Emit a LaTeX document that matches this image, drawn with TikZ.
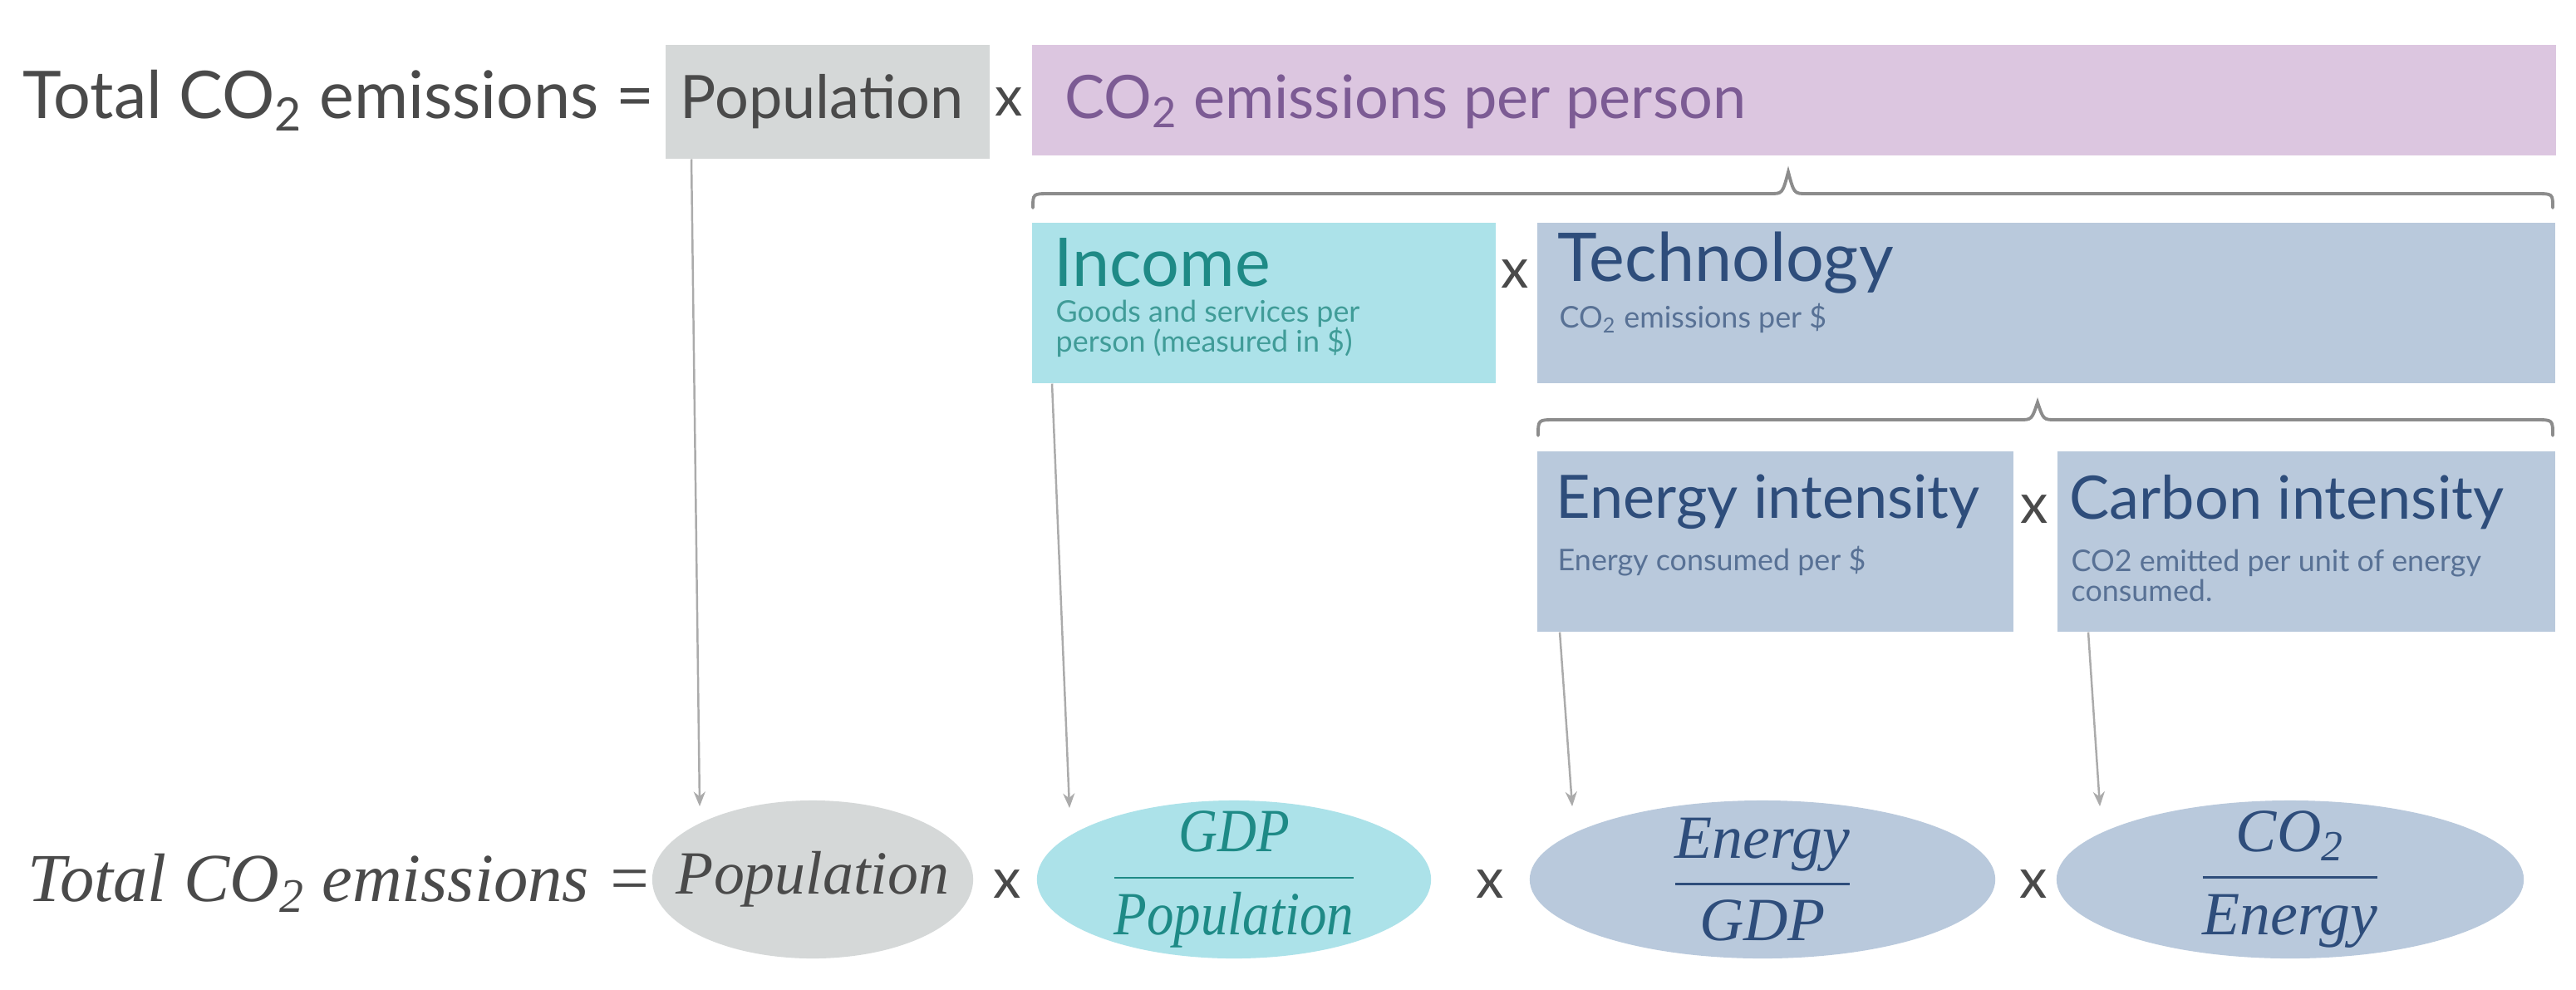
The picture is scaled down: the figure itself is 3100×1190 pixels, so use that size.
\documentclass[tikz,border=0pt]{standalone}
\usepackage{fontspec}
\usepackage{amsmath}
\usepackage{graphicx}
\setmainfont{Lato}
\newfontfamily\serifit{Liberation Serif}[ItalicFont={Liberation Serif Italic}]
\usetikzlibrary{arrows.meta,calc,shapes.geometric}
\definecolor{txtgray}{HTML}{4A4A4A}
\definecolor{popfill}{HTML}{D5D8D8}
\definecolor{purfill}{HTML}{DCC6E0}
\definecolor{purtxt}{HTML}{7C5B94}
\definecolor{incfill}{HTML}{ACE2E9}
\definecolor{inctxt}{HTML}{1E8A86}
\definecolor{techfill}{HTML}{B9C9DC}
\definecolor{techtxt}{HTML}{2E4D7B}
\definecolor{bracec}{HTML}{8C8C8C}
\definecolor{connc}{HTML}{ABABAB}
\begin{document}
\begin{tikzpicture}[x=0.01cm,y=-0.01cm,
  box/.style={draw=none,inner sep=0pt,anchor=north west},
  ttl/.style={anchor=west,inner sep=0pt,font=\fontsize{20.5}{24}\selectfont},
  bigttl/.style={anchor=west,inner sep=0pt,font=\fontsize{23}{27}\selectfont},
  subtxt/.style={anchor=north west,inner sep=0pt,align=left,font=\fontsize{10.2}{10.4}\selectfont},
  times/.style={inner sep=0pt,text=txtgray,font=\fontsize{19}{22}\selectfont},
  ell/.style={ellipse,draw=none,inner sep=0pt,minimum height=1.90cm},
  eqtxt/.style={inner sep=0pt,font=\serifit\itshape\fontsize{21}{25}\selectfont},
  bracestyle/.style={draw=bracec,line width=1.1pt,line cap=round},
  conn/.style={draw=connc,line width=0.7pt,-{Stealth[length=5pt,width=4pt]}}]
\useasboundingbox (0,0) rectangle (3100,1190);
\fill[white] (0,0) rectangle (3100,1190);

% ---------- top row ----------
\node[anchor=east,inner sep=0pt,text=txtgray,font=\fontsize{22.5}{26}\selectfont] (toptotal) at (788,121) {Total CO\textsubscript{2} emissions =};
\node[box,fill=popfill,minimum width=3.90cm,minimum height=1.37cm] (pop) at (800,53) {};
\node[ttl,text=txtgray] (poptxt) at (818,122) {Population};
\node[times] (x1) at (1214,123) {x};
\node[box,fill=purfill,minimum width=18.33cm,minimum height=1.33cm] (co2pp) at (1241,53) {};
\node[ttl,text=purtxt] (co2pptxt) at (1281,122) {CO\textsubscript{2} emissions per person};

\draw[bracestyle] (1243,250) .. controls (1243,233) .. (1263,233) -- (2130,233)
  .. controls (2145,233) .. (2152,207) .. controls (2159,233) .. (2174,233)
  -- (3052,233) .. controls (3072,233) .. (3072,250);

% ---------- second row ----------
\node[box,fill=incfill,minimum width=5.58cm,minimum height=1.93cm] (inc) at (1241,267) {};
\node[bigttl,text=inctxt] (inctxt) at (1268,316) {Income};
\node[subtxt,text=inctxt!85] (incsub) at (1270,360) {Goods and services per\\person (measured in \$)};
\node[times] (x2) at (1823,330) {x};
\node[box,fill=techfill,minimum width=12.25cm,minimum height=1.93cm] (tech) at (1849,267) {};
\node[bigttl,text=techtxt] (techtxt) at (1874,316) {Technology};
\node[subtxt,text=techtxt!80] (techsub) at (1876,364) {CO\textsubscript{2} emissions per \$};

\draw[bracestyle] (1851,524) .. controls (1851,505) .. (1871,505) -- (2430,505)
  .. controls (2445,505) .. (2452,484) .. controls (2459,505) .. (2474,505)
  -- (3052,505) .. controls (3072,505) .. (3072,524);

% ---------- third row ----------
\node[box,fill=techfill,minimum width=5.73cm,minimum height=2.17cm] (ei) at (1849,542) {};
\node[ttl,text=techtxt] (eitxt) at (1872,604) {Energy intensity};
\node[subtxt,text=techtxt!80] (eisub) at (1874,656) {Energy consumed per \$};
\node[times] (x3) at (2448,613) {x};
\node[box,fill=techfill,minimum width=5.99cm,minimum height=2.17cm] (ci) at (2475,542) {};
\node[ttl,text=techtxt] (citxt) at (2490,604) {Carbon intensity};
\node[subtxt,text=techtxt!80] (cisub) at (2492,660) {CO2 emitted per unit of energy\\consumed.};

% ---------- bottom equation ----------
\node[eqtxt,anchor=east,text=txtgray,font=\serifit\itshape\fontsize{23.5}{27}\selectfont] (bottotal) at (786,1062) {Total CO\textsubscript{2} emissions =};
\node[ell,fill=popfill,minimum width=3.86cm] (popE) at (978,1058) {};
\node[eqtxt,text=txtgray] (popEtxt) at (popE) {Population};
\node[times] (x4) at (1212,1064) {x};
\node[ell,fill=incfill,minimum width=4.74cm] (gdpE) at (1485,1058) {};
\node[eqtxt,text=inctxt] (gdpEtxt) at (gdpE)
  {\scalebox{0.88}[1]{\color{inctxt}$\dfrac{\text{GDP}}{\text{Population}}$}};
\node[times] (x5) at (1793,1064) {x};
\node[ell,fill=techfill,minimum width=5.60cm] (enE) at (2121,1058) {};
\node[eqtxt,text=techtxt] (enEtxt) at (enE)
  {\color{techtxt}$\dfrac{\text{Energy}}{\text{GDP}}$};
\node[times] (x6) at (2447,1064) {x};
\node[ell,fill=techfill,minimum width=5.62cm] (coE) at (2756,1058) {};
\node[eqtxt,text=techtxt] (coEtxt) at (coE)
  {\color{techtxt}$\dfrac{\text{CO\textsubscript{2}}}{\text{Energy}}$};

% ---------- connectors ----------
\coordinate (popT) at (842,970);
\coordinate (gdpT) at (1287,972);
\coordinate (enT) at (1892,970);
\coordinate (coT) at (2527,970);
\draw[conn] ([xshift=0.32cm]pop.south west) -- (popT);
\draw[conn] ([xshift=0.25cm]inc.south west) -- (gdpT);
\draw[conn] ([xshift=0.28cm]ei.south west) -- (enT);
\draw[conn] ([xshift=0.38cm]ci.south west) -- (coT);
\end{tikzpicture}
\end{document}
